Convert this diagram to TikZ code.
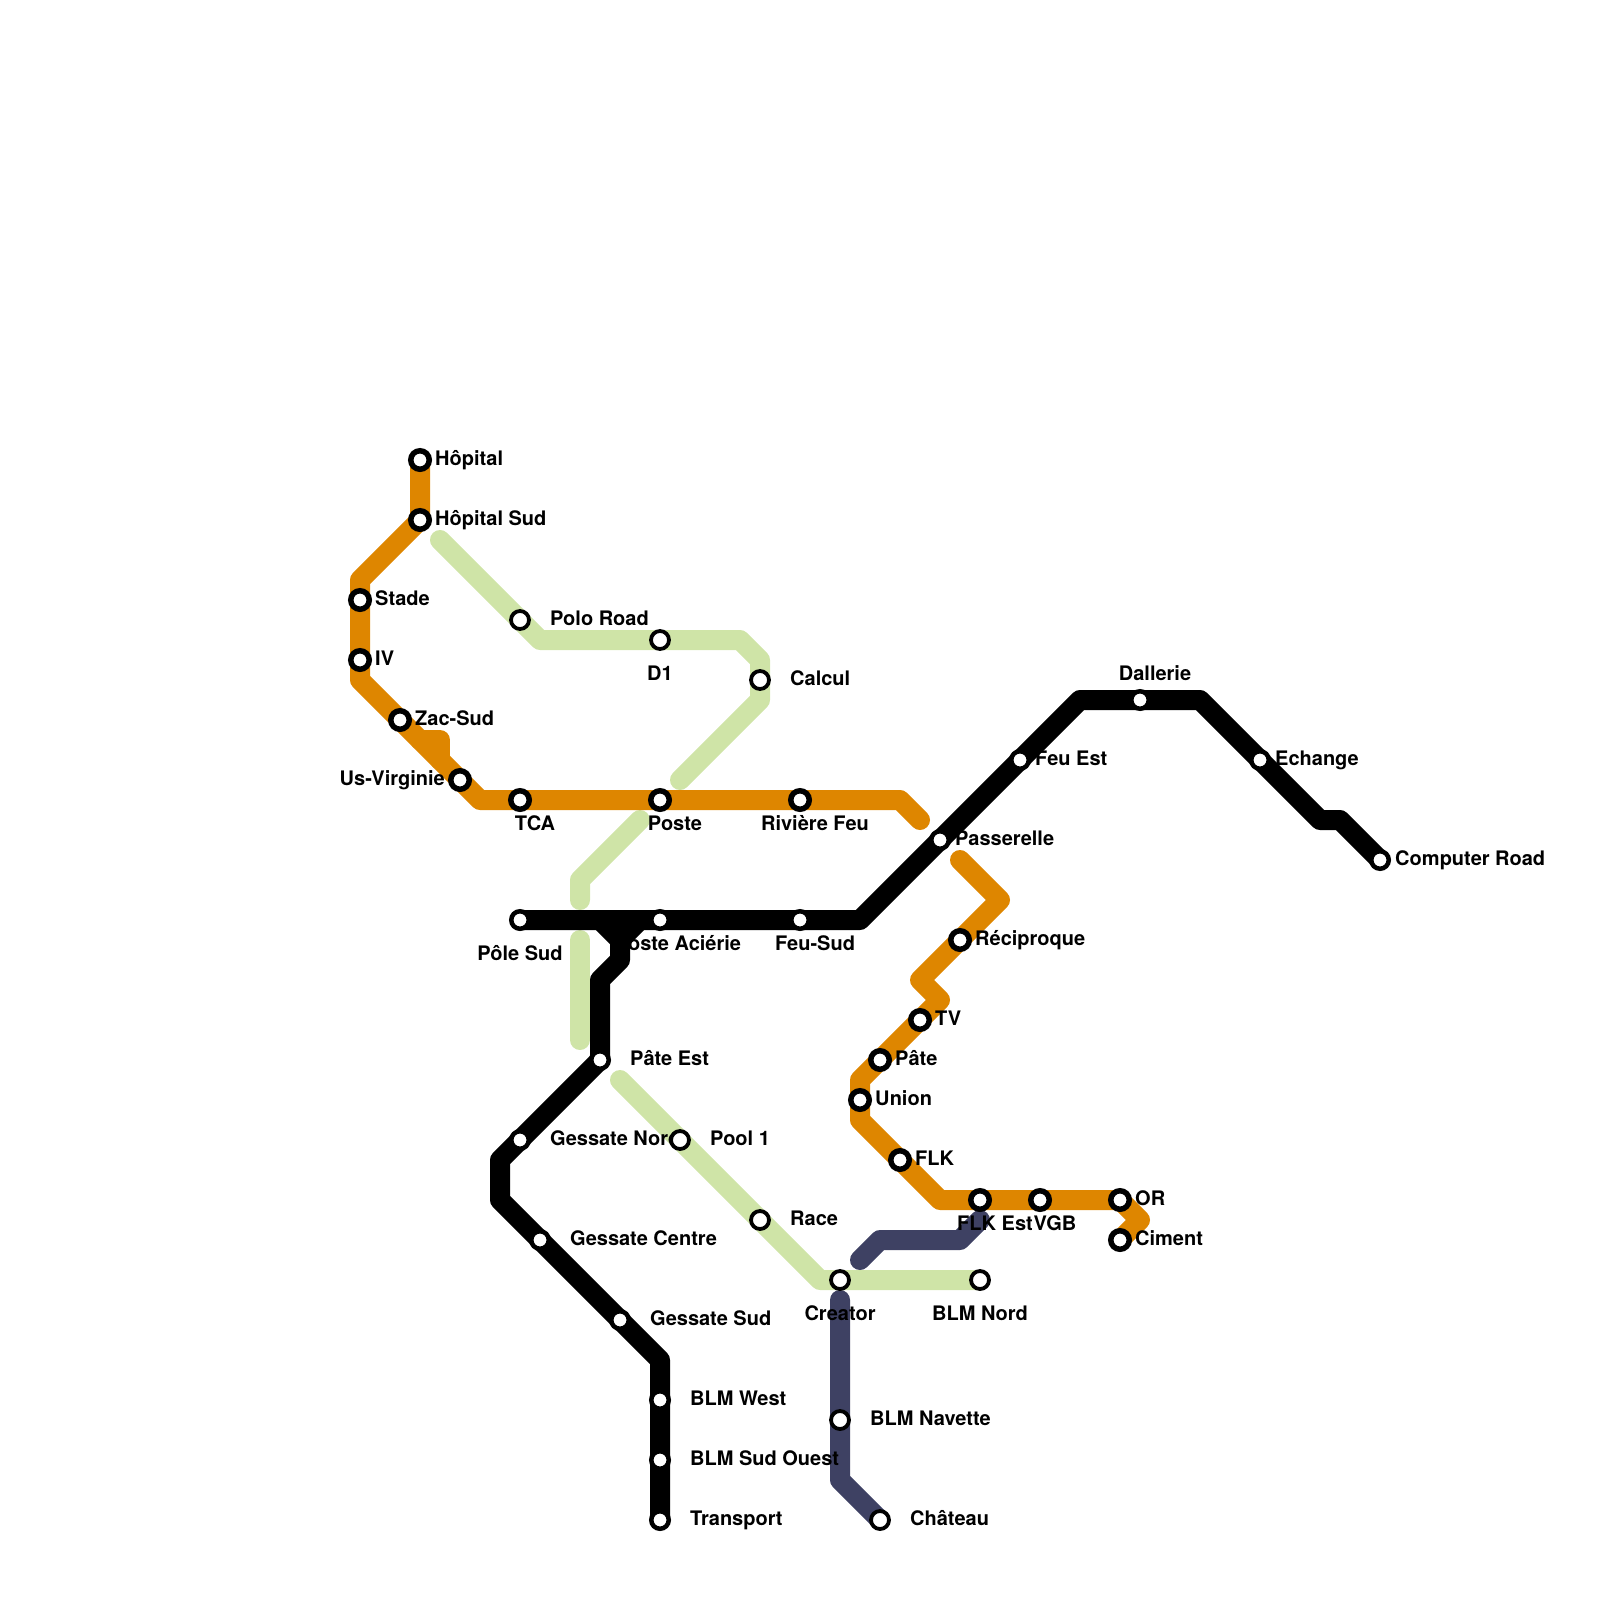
\documentclass[tikz,border=0pt]{standalone}
\usepackage{fontspec}
\setmainfont{TeX Gyre Heros}

\tikzset{
  metroline/.style={line width=20pt,line cap=round,line join=round},
  stopbase/.style={circle,draw=black,fill=white,inner sep=0pt},
  stopwide/.style={stopbase,line width=5.5pt,minimum size=18.5pt},
  stopthin/.style={stopbase,line width=3.8pt,minimum size=18pt},
  stopdark/.style={stopbase,line width=4.5pt,minimum size=17.5pt},
  stoplabel/.style={inner sep=0pt,font=\bfseries\fontsize{20}{22}\selectfont},
  lblright/.style={stoplabel,anchor=base west},
  lblleft/.style={stoplabel,anchor=base east},
  lblmid/.style={stoplabel,anchor=base},
}

\begin{document}
\begin{tikzpicture}[x=1pt,y=-1pt]
\definecolor{orangeline}{RGB}{222,134,0}
\definecolor{greenline}{RGB}{207,228,167}
\definecolor{navyline}{RGB}{62,65,99}
\useasboundingbox (0,0) rectangle (1600,1600);

% Station positions, on a 20 unit grid.
\coordinate (hopital) at (420,460);
\coordinate (hopitalsud) at (420,520);
\coordinate (stade) at (360,600);
\coordinate (iv) at (360,660);
\coordinate (zacsud) at (400,720);
\coordinate (usvirginie) at (460,780);
\coordinate (tca) at (520,800);
\coordinate (poste) at (660,800);
\coordinate (rivierefeu) at (800,800);
\coordinate (reciproque) at (960,940);
\coordinate (tv) at (920,1020);
\coordinate (pate) at (880,1060);
\coordinate (union) at (860,1100);
\coordinate (flk) at (900,1160);
\coordinate (flkest) at (980,1200);
\coordinate (vgb) at (1040,1200);
\coordinate (or) at (1120,1200);
\coordinate (ciment) at (1120,1240);
\coordinate (pole) at (520,620);
\coordinate (dun) at (660,640);
\coordinate (calcul) at (760,680);
\coordinate (pool) at (680,1140);
\coordinate (race) at (760,1220);
\coordinate (creator) at (840,1280);
\coordinate (blmnord) at (980,1280);
\coordinate (blmnavette) at (840,1420);
\coordinate (chateau) at (880,1520);
\coordinate (polesud) at (520,920);
\coordinate (posteacierie) at (660,920);
\coordinate (feusud) at (800,920);
\coordinate (passerelle) at (940,840);
\coordinate (feuest) at (1020,760);
\coordinate (dallerie) at (1140,700);
\coordinate (echange) at (1260,760);
\coordinate (computer) at (1380,860);
\coordinate (pateest) at (600,1060);
\coordinate (gessatenord) at (520,1140);
\coordinate (gessatecentre) at (540,1240);
\coordinate (gessatesud) at (620,1320);
\coordinate (blmwest) at (660,1400);
\coordinate (blmsudouest) at (660,1460);
\coordinate (transport) at (660,1520);

% Green line, in three pieces.
\draw[metroline,greenline] (440,540)--(pole)--(540,640)--(dun)--(740,640)--(760,660)
  --(calcul)--(760,700)--(680,780);
\draw[metroline,greenline] (640,820)--(580,880)--(580,900);
\draw[metroline,greenline] (580,940)--(580,1040);
\draw[metroline,greenline] (620,1080)--(pool)--(race)--(820,1280)--(creator)--(blmnord);

% Navy line.
\draw[metroline,navyline] (860,1260)--(880,1240)--(960,1240)--(980,1220);
\draw[metroline,navyline] (840,1300)--(blmnavette)--(840,1480)--(chateau);

% Orange line, in two pieces and a stub.
\draw[metroline,orangeline] (hopital)--(hopitalsud)--(360,580)--(stade)--(iv)--(360,680)
  --(zacsud)--(usvirginie)--(480,800)--(tca)--(poste)--(rivierefeu)--(900,800)--(920,820);
\draw[metroline,orangeline] (420,740)--(440,740)--(440,760);
\draw[metroline,orangeline] (960,860)--(1000,900)--(reciproque)--(920,980)--(940,1000)
  --(tv)--(pate)--(860,1080)--(union)--(860,1120)--(flk)--(940,1200)--(flkest)--(vgb)
  --(or)--(1140,1220)--(ciment);

% Black line and its branch.
\draw[metroline,black] (polesud)--(posteacierie)--(feusud)--(860,920)--(passerelle)
  --(feuest)--(1080,700)--(dallerie)--(1200,700)--(echange)--(1320,820)--(1340,820)--(computer);
\draw[metroline,black] (600,920)--(620,940)--(620,960)--(600,980)--(pateest)
  --(gessatenord)--(500,1160)--(500,1200)--(gessatecentre)--(gessatesud)--(660,1360)
  --(blmwest)--(blmsudouest)--(transport);
\draw[metroline,black] (640,920)--(620,940);

% Labels go under the stops.
\node[lblright] (lHopital) at (435,465) {Hôpital};
\node[lblright] (lHopitalSud) at (435,525) {Hôpital Sud};
\node[lblright] (lStade) at (375,605) {Stade};
\node[lblright] (lIV) at (375,665) {IV};
\node[lblright] (lZacSud) at (415,725) {Zac-Sud};
\node[lblleft] (lUsVirginie) at (445,785) {Us-Virginie};
\node[lblmid] (lTCA) at (535,830) {TCA};
\node[lblmid] (lPoste) at (675,830) {Poste};
\node[lblmid] (lRiviereFeu) at (815,830) {Rivière Feu};
\node[lblright] (lPolo) at (550,625) {Polo Road};
\node[lblmid] (lDun) at (660,680) {D1};
\node[lblright] (lCalcul) at (790,685) {Calcul};
\node[lblmid] (lPoleSud) at (520,960) {Pôle Sud};
\node[lblmid] (lPosteAcierie) at (678,950) {Poste Aciérie};
\node[lblmid] (lFeuSud) at (815,950) {Feu-Sud};
\node[lblright] (lPateEst) at (630,1065) {Pâte Est};
\node[lblright] (lGessateNord) at (550,1145) {Gessate Nord};
\node[lblright] (lPool) at (710,1145) {Pool 1};
\node[lblright] (lRace) at (790,1225) {Race};
\node[lblright] (lGessateCentre) at (570,1245) {Gessate Centre};
\node[lblright] (lGessateSud) at (650,1325) {Gessate Sud};
\node[lblright] (lBLMWest) at (690,1405) {BLM West};
\node[lblright] (lBLMSudOuest) at (690,1465) {BLM Sud Ouest};
\node[lblright] (lTransport) at (690,1525) {Transport};
\node[lblmid] (lCreator) at (840,1320) {Creator};
\node[lblmid] (lBLMNord) at (980,1320) {BLM Nord};
\node[lblright] (lBLMNavette) at (870,1425) {BLM Navette};
\node[lblright] (lChateau) at (910,1525) {Château};
\node[lblmid] (lDallerie) at (1155,680) {Dallerie};
\node[lblright] (lFeuEst) at (1035,765) {Feu Est};
\node[lblright] (lEchange) at (1275,765) {Echange};
\node[lblright] (lComputer) at (1395,865) {Computer Road};
\node[lblright] (lPasserelle) at (955,845) {Passerelle};
\node[lblright] (lReciproque) at (975,945) {Réciproque};
\node[lblright] (lTV) at (935,1025) {TV};
\node[lblright] (lPate) at (895,1065) {Pâte};
\node[lblright] (lUnion) at (875,1105) {Union};
\node[lblright] (lFLK) at (915,1165) {FLK};
\node[lblmid] (lFLKEst) at (995,1230) {FLK Est};
\node[lblmid] (lVGB) at (1055,1230) {VGB};
\node[lblright] (lOR) at (1135,1205) {OR};
\node[lblright] (lCiment) at (1135,1245) {Ciment};

% Stops.
\node[stopwide] (sHopital) at (hopital) {};
\node[stopwide] (sHopitalSud) at (hopitalsud) {};
\node[stopwide] (sStade) at (stade) {};
\node[stopwide] (sIV) at (iv) {};
\node[stopwide] (sZacSud) at (zacsud) {};
\node[stopwide] (sUsVirginie) at (usvirginie) {};
\node[stopwide] (sTCA) at (tca) {};
\node[stopwide] (sPoste) at (poste) {};
\node[stopwide] (sRiviereFeu) at (rivierefeu) {};
\node[stopwide] (sReciproque) at (reciproque) {};
\node[stopwide] (sTV) at (tv) {};
\node[stopwide] (sPate) at (pate) {};
\node[stopwide] (sUnion) at (union) {};
\node[stopwide] (sFLK) at (flk) {};
\node[stopwide] (sFLKEst) at (flkest) {};
\node[stopwide] (sVGB) at (vgb) {};
\node[stopwide] (sOR) at (or) {};
\node[stopwide] (sCiment) at (ciment) {};
\node[stopthin] (sPole) at (pole) {};
\node[stopthin] (sDun) at (dun) {};
\node[stopthin] (sCalcul) at (calcul) {};
\node[stopthin] (sPool) at (pool) {};
\node[stopthin] (sRace) at (race) {};
\node[stopthin] (sCreator) at (creator) {};
\node[stopthin] (sBLMNord) at (blmnord) {};
\node[stopthin] (sBLMNavette) at (blmnavette) {};
\node[stopthin] (sChateau) at (chateau) {};
\node[stopdark] (sPoleSud) at (polesud) {};
\node[stopdark] (sPosteAcierie) at (posteacierie) {};
\node[stopdark] (sFeuSud) at (feusud) {};
\node[stopdark] (sPasserelle) at (passerelle) {};
\node[stopdark] (sFeuEst) at (feuest) {};
\node[stopdark] (sDallerie) at (dallerie) {};
\node[stopdark] (sEchange) at (echange) {};
\node[stopdark] (sComputer) at (computer) {};
\node[stopdark] (sPateEst) at (pateest) {};
\node[stopdark] (sGessateNord) at (gessatenord) {};
\node[stopdark] (sGessateCentre) at (gessatecentre) {};
\node[stopdark] (sGessateSud) at (gessatesud) {};
\node[stopdark] (sBLMWest) at (blmwest) {};
\node[stopdark] (sBLMSudOuest) at (blmsudouest) {};
\node[stopdark] (sTransport) at (transport) {};
\end{tikzpicture}
\end{document}
